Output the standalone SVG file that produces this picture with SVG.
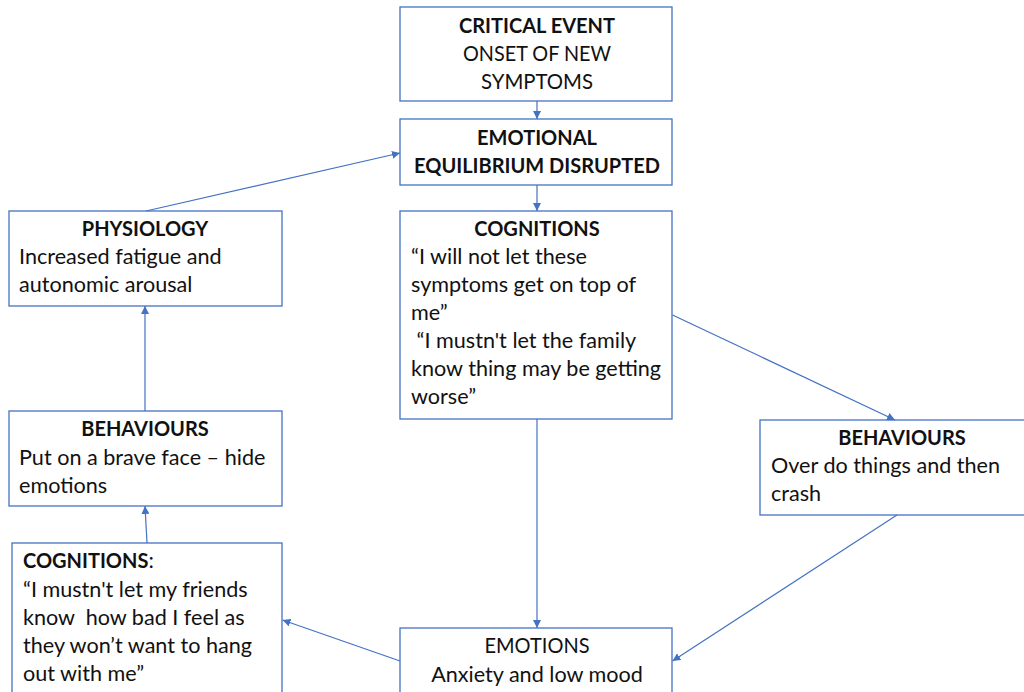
<svg xmlns="http://www.w3.org/2000/svg" width="1024" height="692" viewBox="0 0 1024 692">
<style>
.box{fill:#fff;stroke:#4472C4;stroke-width:1.3}
.t{font-family:Lato,"Open Sans","Liberation Sans",sans-serif;font-size:21.6px;fill:#111;white-space:pre}
.b{font-weight:bold;font-size:20px}
.c{text-anchor:middle}
.cn line{stroke:#4472C4;stroke-width:1.2;marker-end:url(#ah)}
</style>
<defs>
<marker id="ah" viewBox="0 0 10 10" refX="10" refY="5" markerWidth="8" markerHeight="8" markerUnits="userSpaceOnUse" orient="auto">
<path d="M0,0 L10,5 L0,10 z" fill="#4472C4"/>
</marker>
</defs>
<rect width="1024" height="692" fill="#fff"/>
<g id="critical-event">
<rect class="box" x="400" y="7" width="272" height="94"/>
<text class="t b c" x="537" y="33">CRITICAL EVENT</text>
<text class="t c" x="537" y="61" textLength="148" lengthAdjust="spacingAndGlyphs">ONSET OF NEW</text>
<text class="t c" x="537" y="89" textLength="112" lengthAdjust="spacingAndGlyphs">SYMPTOMS</text>
</g>
<g id="emotional-equilibrium">
<rect class="box" x="400" y="119" width="272" height="66"/>
<text class="t b c" x="537" y="145">EMOTIONAL</text>
<text class="t b c" x="537" y="173">EQUILIBRIUM DISRUPTED</text>
</g>
<g id="cognitions-center">
<rect class="box" x="400" y="211" width="272" height="208"/>
<text class="t b c" x="537" y="236">COGNITIONS</text>
<text class="t" x="411" y="264">“I will not let these</text>
<text class="t" x="411" y="292">symptoms get on top of</text>
<text class="t" x="411" y="320">me”</text>
<text class="t" x="411" y="348" xml:space="preserve"> “I mustn't let the family</text>
<text class="t" x="411" y="376">know thing may be getting</text>
<text class="t" x="411" y="404">worse”</text>
</g>
<g id="physiology">
<rect class="box" x="9" y="211" width="273" height="95"/>
<text class="t b c" x="145" y="236">PHYSIOLOGY</text>
<text class="t" x="19" y="264">Increased fatigue and</text>
<text class="t" x="19" y="292">autonomic arousal</text>
</g>
<g id="behaviours-left">
<rect class="box" x="9" y="411" width="273" height="95"/>
<text class="t b c" x="145" y="436">BEHAVIOURS</text>
<text class="t" x="19" y="465">Put on a brave face – hide</text>
<text class="t" x="19" y="493">emotions</text>
</g>
<g id="behaviours-right">
<rect class="box" x="760" y="420" width="274" height="95"/>
<text class="t b c" x="902" y="445">BEHAVIOURS</text>
<text class="t" x="771" y="473">Over do things and then</text>
<text class="t" x="771" y="501">crash</text>
</g>
<g id="cognitions-left">
<rect class="box" x="12" y="543" width="270" height="160"/>
<text class="t" x="23" y="568"><tspan class="b">COGNITIONS</tspan>:</text>
<text class="t" x="23" y="597">“I mustn't let my friends</text>
<text class="t" x="23" y="625" xml:space="preserve">know  how bad I feel as</text>
<text class="t" x="23" y="653">they won’t want to hang</text>
<text class="t" x="23" y="681">out with me”</text>
</g>
<g id="emotions">
<rect class="box" x="400" y="628" width="272" height="80"/>
<text class="t c" x="537" y="653" textLength="105" lengthAdjust="spacingAndGlyphs">EMOTIONS</text>
<text class="t c" x="537" y="682">Anxiety and low mood</text>
</g>
<g id="connectors" class="cn">
<line x1="537" y1="101" x2="537" y2="119"/>
<line x1="537" y1="185" x2="537" y2="211"/>
<line x1="537" y1="419" x2="537" y2="628"/>
<line x1="672.5" y1="315" x2="895" y2="420"/>
<line x1="897" y1="515" x2="672.5" y2="661"/>
<line x1="400" y1="661" x2="282.5" y2="620"/>
<line x1="147" y1="543" x2="145" y2="506"/>
<line x1="145" y1="411" x2="145" y2="306"/>
<line x1="146" y1="211" x2="400" y2="153"/>
</g>
</svg>
